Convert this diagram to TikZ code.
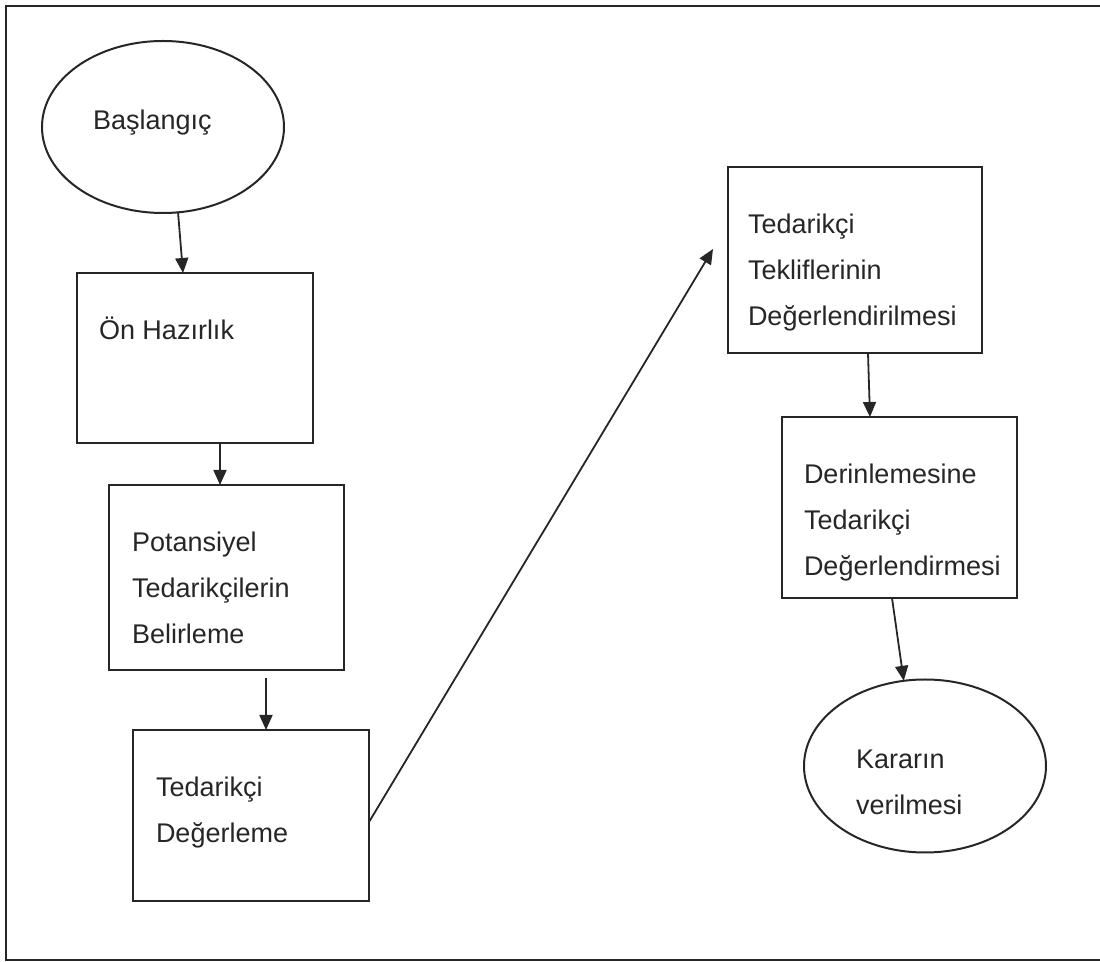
\documentclass[tikz,border=0pt]{standalone}
\usepackage{fontspec}
\setmainfont{Liberation Sans}
\usetikzlibrary{shapes.geometric,arrows.meta,calc}
\definecolor{ink}{HTML}{262626}
\begin{document}
\begin{tikzpicture}[x=0.5pt,y=-0.5pt,
  line width=1pt, draw=ink,
  stepbox/.style={draw=ink, rectangle, inner sep=0pt, outer sep=0pt},
  oval/.style={draw=ink, ellipse, inner sep=0pt, outer sep=0pt},
  lbl/.style={anchor=base west, inner sep=0pt, align=left, text=ink,
    font=\fontsize{13.5}{23}\selectfont},
  arr/.style={draw=ink, line width=0.9pt, -{Triangle[length=7.5pt,width=6.5pt]}}]
\useasboundingbox (0,0) rectangle (1100,962);
% outer frame, open on the right
\draw[line width=1.1pt] (1110,6) -- (6,6) -- (6,960) -- (1110,960);

% shapes
\node[oval, minimum width=121pt, minimum height=86pt] (start) at (163,127) {};
\node[stepbox, minimum width=118pt, minimum height=85pt] (prep) at (195,358) {};
\node[stepbox, minimum width=117.5pt, minimum height=92.5pt] (find) at (226.5,577.5) {};
\node[stepbox, minimum width=118pt, minimum height=85.5pt] (rate) at (251,815.5) {};
\node[stepbox, minimum width=127pt, minimum height=93pt] (offers) at (855,260) {};
\node[stepbox, minimum width=117.5pt, minimum height=90.5pt] (deep) at (899.5,507.5) {};
\node[oval, minimum width=121pt, minimum height=86.5pt] (decide) at (925,766) {};

% labels (multi-line labels are placed by the baseline of their last line)
\node[lbl] (tstart) at (92,130) {Başlangıç};
\node[lbl] (tprep) at (98,340) {Ön Hazırlık};
\node[lbl] (tfind) at (131,644) {Potansiyel\\Tedarikçilerin\\Belirleme};
\node[lbl] (trate) at (155,843) {Tedarikçi\\Değerleme};
\node[lbl] (toffers) at (747,326) {Tedarikçi\\Tekliflerinin\\Değerlendirilmesi};
\node[lbl] (tdeep) at (803,576) {Derinlemesine\\Tedarikçi\\Değerlendirmesi};
\node[lbl] (tdecide) at (855,815) {Kararın\\verilmesi};

% connectors
\draw[arr] (start.-80) -- ($(prep.north)+(-12,0)$);
\draw[arr] ($(prep.south)+(25,0)$) -- ($(find.north)+(-6.5,0)$);
\draw[arr] ($(find.south)+(39.5,8)$) -- ($(rate.north)+(15,0)$);
\draw[arr] ($(rate.east)+(0,6.5)$) -- ($(offers.west)+(-15,-11)$);
\draw[arr] ($(offers.south)+(13,0)$) -- ($(deep.north)+(-29.5,0)$);
\draw[arr] ($(deep.south)+(-7.5,0)$) -- (decide.104);
\end{tikzpicture}
\end{document}
